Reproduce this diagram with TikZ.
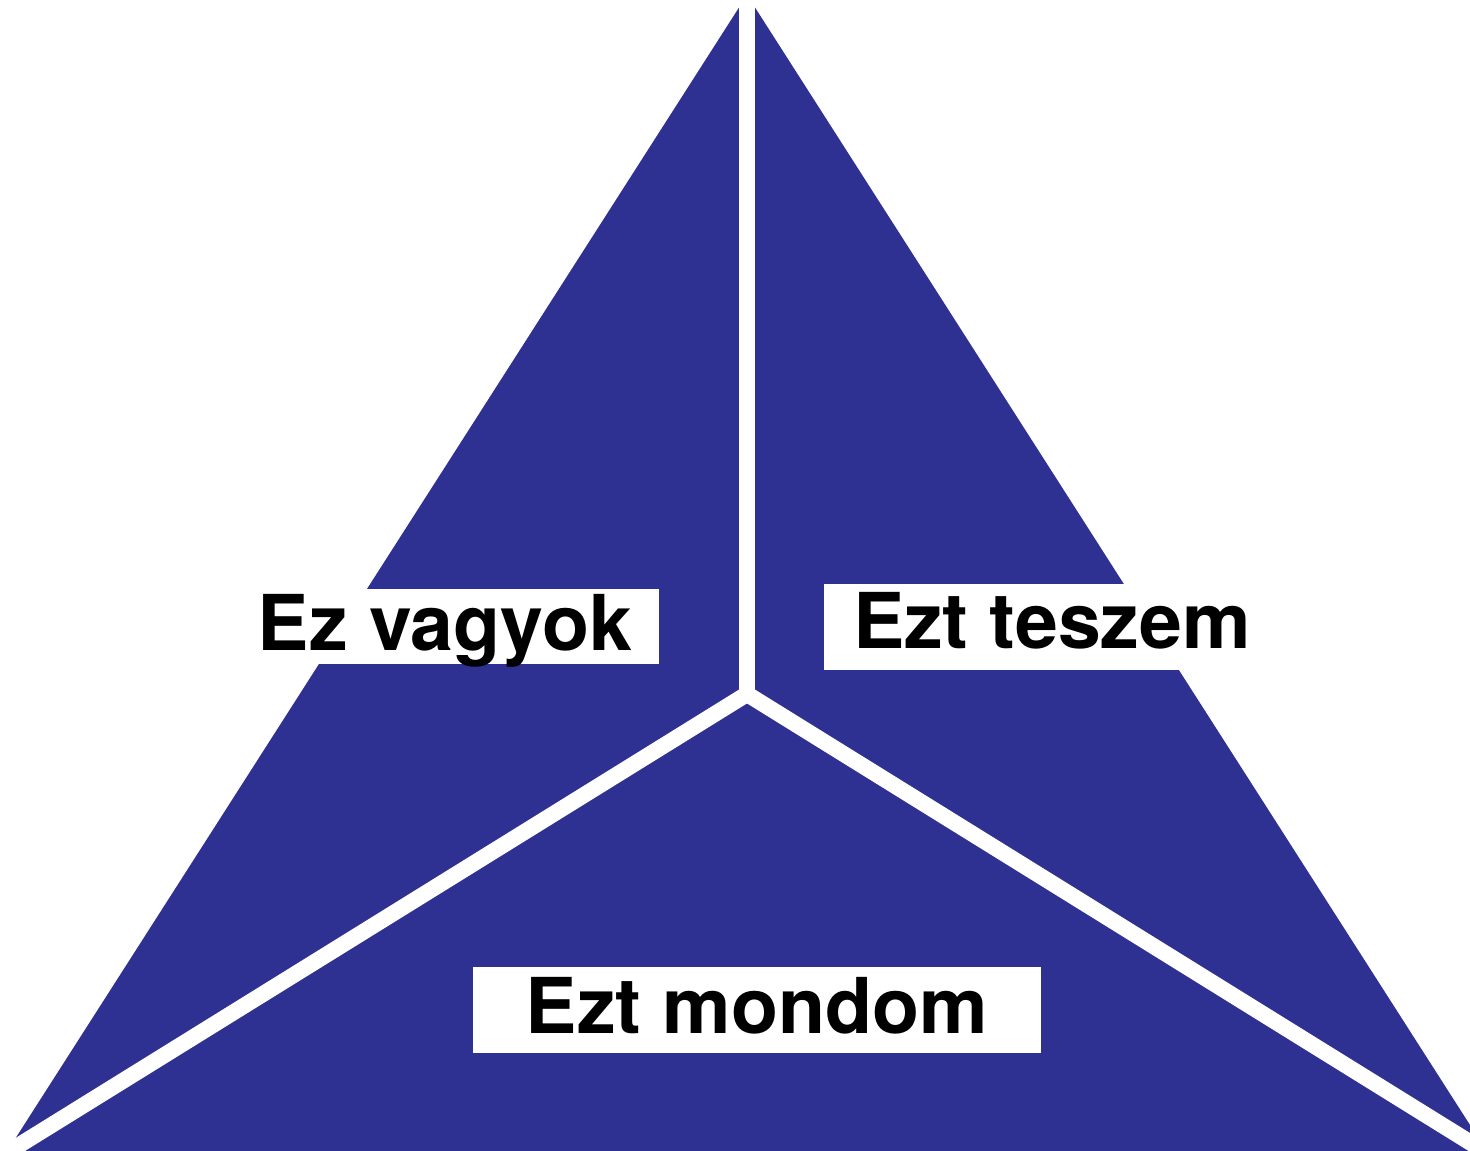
\documentclass[tikz,border=0pt]{standalone}
\usepackage{fontspec}
\setmainfont{TeX Gyre Heros}
\definecolor{pyrblue}{RGB}{46,49,146}
\begin{document}
\begin{tikzpicture}[x=0.01cm,y=-0.01cm,
  gap/.style={draw=white,line width=0.16cm},
  label/.style={fill=white,anchor=north west,inner xsep=0pt,inner ysep=0pt,
    font=\fontsize{21.9pt}{26pt}\selectfont\bfseries,text=black}]
\useasboundingbox (0,0) rectangle (1470,1150);
\clip (0,0) rectangle (1470,1150);
\coordinate (apex) at (747,-5);
\coordinate (bl) at (-24,1200);
\coordinate (br) at (1518,1200);
\coordinate (c) at (747,694);
\coordinate (top) at (747,-50);
\coordinate (lend) at (-100,1219);
\coordinate (rend) at (1600,1223);
\fill[pyrblue] (apex) -- (bl) -- (br) -- cycle;
\draw[gap] (top) -- (c);
\draw[gap] (c) -- (lend);
\draw[gap] (c) -- (rend);
\node[label,minimum width=4.28cm,text height=0.62cm,text depth=0.13cm] (l1) at (230,588) {Ez vagyok};
\node[label,minimum width=4.56cm,text height=0.65cm,text depth=0.21cm] (l2) at (823,583) {Ezt teszem};
\node[label,minimum width=5.68cm,text height=0.67cm,text depth=0.19cm] (l3) at (472,966) {Ezt mondom};
\end{tikzpicture}
\end{document}
